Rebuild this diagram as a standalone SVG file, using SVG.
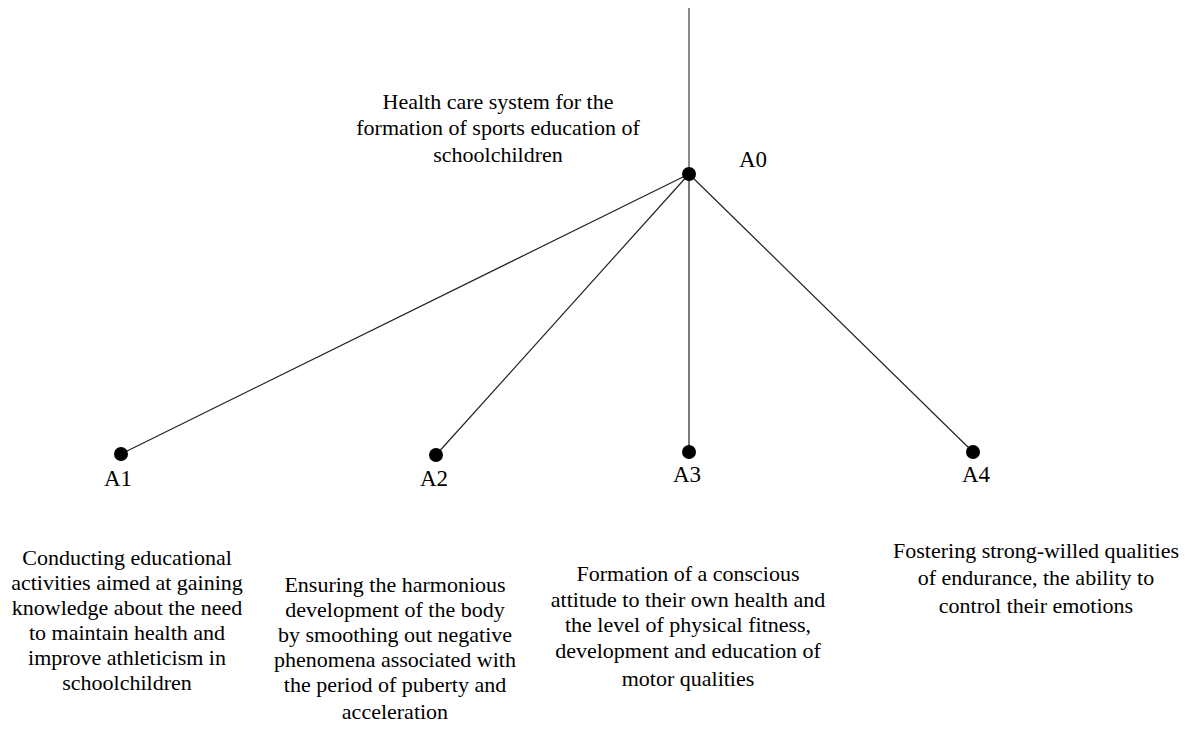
<svg xmlns="http://www.w3.org/2000/svg" width="1187" height="732" viewBox="0 0 1187 732" font-family="'Liberation Serif', 'Times New Roman', Times, 'DejaVu Serif', serif">
<style>
text{font-family:'Liberation Serif','Times New Roman',Times,'DejaVu Serif',serif;fill:#000}
.t{font-size:22px;text-anchor:middle}
.l{font-size:23px}
.c{stroke:#222;stroke-width:1.2;fill:none}
.d{fill:#000}
</style>
<rect width="1187" height="732" fill="#fff"/>
<g id="connectors">
<line class="c" x1="689" y1="8" x2="689" y2="174" style="stroke:#666;stroke-width:1.5"/>
<line class="c" x1="689" y1="174" x2="121" y2="454"/>
<line class="c" x1="689" y1="174" x2="436" y2="455"/>
<line class="c" x1="689" y1="174" x2="689" y2="452"/>
<line class="c" x1="689" y1="174" x2="973" y2="452"/>
</g>
<g id="A0">
<circle class="d" cx="689" cy="174" r="7"/>
<text class="l" x="739" y="167">A0</text>
<text class="t"><tspan x="498" y="109">Health care system for the</tspan><tspan x="498" y="135">formation of sports education of</tspan><tspan x="498" y="162">schoolchildren</tspan></text>
</g>
<g id="A1">
<circle class="d" cx="121" cy="454" r="7"/>
<text class="l" x="104" y="486">A1</text>
<text class="t"><tspan x="127" y="565">Conducting educational</tspan><tspan x="127" y="590">activities aimed at gaining</tspan><tspan x="127" y="615">knowledge about the need</tspan><tspan x="127" y="640">to maintain health and</tspan><tspan x="127" y="665">improve athleticism in</tspan><tspan x="127" y="690">schoolchildren</tspan></text>
</g>
<g id="A2">
<circle class="d" cx="436" cy="455" r="7"/>
<text class="l" x="420" y="486">A2</text>
<text class="t"><tspan x="395" y="592">Ensuring the harmonious</tspan><tspan x="395" y="617">development of the body</tspan><tspan x="395" y="642">by smoothing out negative</tspan><tspan x="395" y="667">phenomena associated with</tspan><tspan x="395" y="692">the period of puberty and</tspan><tspan x="395" y="719">acceleration</tspan></text>
</g>
<g id="A3">
<circle class="d" cx="689" cy="452" r="7"/>
<text class="l" x="673" y="482">A3</text>
<text class="t"><tspan x="688" y="581">Formation of a conscious</tspan><tspan x="688" y="607">attitude to their own health and</tspan><tspan x="688" y="632">the level of physical fitness,</tspan><tspan x="688" y="658">development and education of</tspan><tspan x="688" y="686">motor qualities</tspan></text>
</g>
<g id="A4">
<circle class="d" cx="973" cy="452" r="7"/>
<text class="l" x="962" y="482">A4</text>
<text class="t"><tspan x="1036" y="558">Fostering strong-willed qualities</tspan><tspan x="1036" y="585">of endurance, the ability to</tspan><tspan x="1036" y="613">control their emotions</tspan></text>
</g>
</svg>
